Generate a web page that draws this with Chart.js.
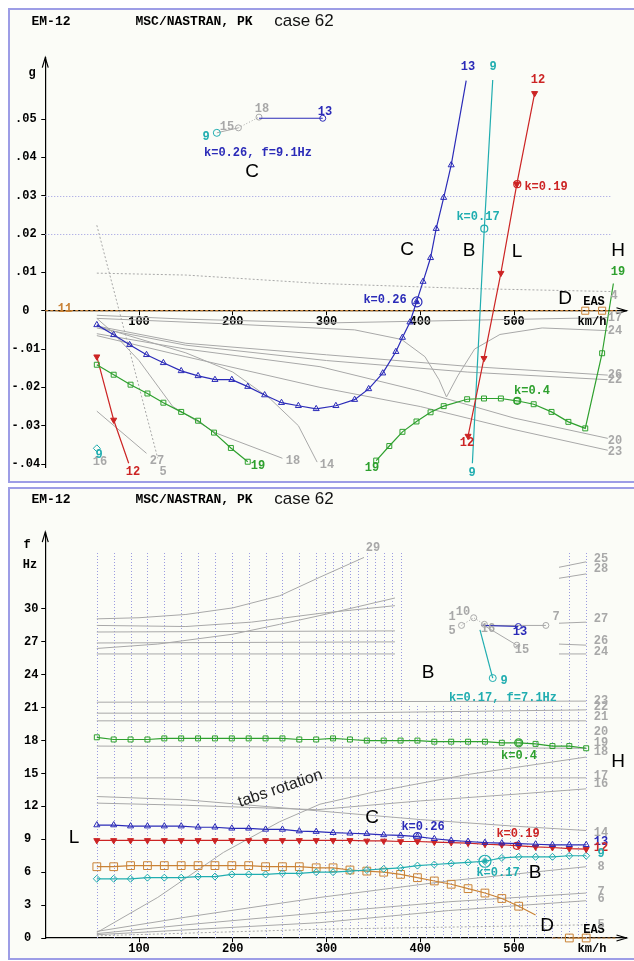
<!DOCTYPE html>
<html>
<head>
<meta charset="utf-8">
<title>EM-12 flutter, case 62</title>
<script src="https://cdn.jsdelivr.net/npm/chart.js@4.4.1/dist/chart.umd.min.js"></script>
<style>
  html, body { margin: 0; padding: 0; background: #fff; width: 634px; height: 961px; overflow: hidden; }
  .panel { position: absolute; left: 8px; width: 640px; border: 2px solid #9d9de6; background: #fbfcf7; box-sizing: border-box; }
  #box1 { top: 8px; height: 475px; }
  #box2 { top: 487px; height: 473px; }
  canvas { position: absolute; left: 0; }
  #vg { top: 0; }
  #vf { top: 480px; }
</style>
</head>
<body>
<div class="panel" id="box1"></div>
<div class="panel" id="box2"></div>
<canvas id="vg" width="634" height="480"></canvas>
<canvas id="vf" width="634" height="481"></canvas>
<script>
// colours of the modes
const BLUE = '#2b2bb8', CYAN = '#20adb0', RED = '#cc2424', GREEN = '#2ea02e', ORANGE = '#c98236', GRAY = '#a8a8a8', GRID = '#9b9be0';
const MONO = '"Liberation Mono", "DejaVu Sans Mono", monospace';
const FONTS = {
    mono: 'bold 12px ' + MONO,
    head: 'bold 13px ' + MONO,
    big: '19px "Liberation Sans", Arial, sans-serif',
    title: '17px "Liberation Sans", Arial, sans-serif',
    tabs: '16px "Liberation Sans", Arial, sans-serif'
};

// ---------- axes
const xTicks = [100, 200, 300, 400, 500];
const gTicks = [-0.04, -0.03, -0.02, -0.01, 0, 0.01, 0.02, 0.03, 0.04, 0.05];
const gTickLabels = ['-.04', '-.03', '-.02', '-.01', '0', '.01', '.02', '.03', '.04', '.05'];
const fTicks = [0, 3, 6, 9, 12, 15, 18, 21, 24, 27, 30];

// ---------- V-g panel (speed km/h EAS, damping g)
const speedG13 = [55, 73, 90, 108, 126, 145, 163, 181, 199, 216, 234, 252, 270, 289, 310, 330, 345, 360, 374, 381, 389, 396, 403, 411, 417, 425, 433, 449];
const dampG13 = [-0.0037, -0.0063, -0.0089, -0.0115, -0.0136, -0.0157, -0.0170, -0.0180, -0.0180, -0.0198, -0.0220, -0.0240, -0.0248, -0.0256, -0.0248, -0.0232, -0.0204, -0.0163, -0.0107, -0.0070, -0.0030, 0.0023, 0.0076, 0.0138, 0.0214, 0.0295, 0.0380, 0.0600];
const speedG19a = [55, 73, 91, 109, 126, 145, 163, 180, 198, 216];
const dampG19a = [-0.0141, -0.0167, -0.0193, -0.0216, -0.0240, -0.0264, -0.0287, -0.0318, -0.0358, -0.0394];
const speedG19b = [353, 367, 381, 396, 411, 425, 450, 468, 486, 503, 521, 540, 558, 576, 594, 606];
const dampG19b = [-0.0391, -0.0353, -0.0316, -0.0289, -0.0265, -0.0249, -0.0231, -0.0229, -0.0229, -0.0235, -0.0244, -0.0264, -0.0290, -0.0307, -0.0111, 0.0071];
const speedG12a = [55, 73, 89];
const dampG12a = [-0.0120, -0.0285, -0.0398];
const speedG12b = [451, 468, 486, 503, 522];
const dampG12b = [-0.0327, -0.0124, 0.0098, 0.0330, 0.0567];
const speedG9a = [55];
const dampG9a = [-0.0359];
const speedG9b = [455.6, 468.3, 477.3];
const dampG9b = [-0.0398, 0.0214, 0.0602];
const speedG11 = [0, 610];
const dampG11 = [0, 0];
const speedG11Marks = [576, 594];
const dampG11Marks = [0, 0];
const flutterSpeedG = [396.5, 468.3, 503.5, 503.5];
const flutterDampG = [0.0023, 0.0214, 0.0330, -0.0235];
// k-plot inset drawn in the V-g frame
const insetG9 = [[183, 0.0464]];
const insetGGray = [[183, 0.0464], [206, 0.0477]];
const insetGGrayDot = [[206, 0.0477], [228, 0.0505]];
const insetG13 = [[228, 0.0502], [296, 0.0502]];
// other modes (grey)
const grayG4 = [[55, 0.0098], [150, 0.0093], [293, 0.0071], [450, 0.0058], [603, 0.0050]];
const grayG5 = [[55, 0.0223], [120, -0.0385]];
const grayG16 = [[55, -0.0262], [108, -0.0372]];
const grayG18 = [[55, -0.0020], [69, -0.0050], [100, -0.0130], [136, -0.0250], [183, -0.0320], [253, -0.0385]];
const grayG14 = [[55, -0.0040], [150, -0.0110], [200, -0.0160], [240, -0.0230], [270, -0.0300], [290, -0.0395]];
const grayG17 = [[55, -0.0012], [150, -0.0022], [300, -0.0032], [450, -0.0025], [600, -0.0018]];
const grayG24 = [[55, -0.0020], [200, -0.0035], [330, -0.0050], [380, -0.0075], [405, -0.0120], [420, -0.0180], [428, -0.0225], [440, -0.0170], [458, -0.0100], [485, -0.0062], [530, -0.0045], [600, -0.0052]];
const grayG26 = [[55, -0.0040], [150, -0.0085], [300, -0.0115], [450, -0.0145], [600, -0.0168]];
const grayG22 = [[55, -0.0045], [150, -0.0090], [300, -0.0130], [450, -0.0160], [600, -0.0180]];
const grayG20 = [[55, -0.0060], [150, -0.0100], [293, -0.0146], [400, -0.0210], [500, -0.0280], [600, -0.0333]];
const grayG23 = [[55, -0.0065], [150, -0.0120], [293, -0.0200], [400, -0.0250], [500, -0.0310], [600, -0.0364]];

// ---------- V-f panel (speed km/h EAS, frequency Hz)
const speedF = [55, 73, 91, 109, 127, 145, 163, 181, 199, 217, 235, 253, 271, 289, 307, 325, 343, 361, 379, 397, 415, 433, 451, 469, 487, 505, 523, 541, 559, 577];
const freqF13 = [10.3, 10.3, 10.2, 10.2, 10.2, 10.2, 10.1, 10.1, 10.0, 10.0, 9.9, 9.9, 9.75, 9.7, 9.6, 9.55, 9.5, 9.4, 9.35, 9.25, 9.05, 8.9, 8.8, 8.7, 8.65, 8.6, 8.55, 8.5, 8.5, 8.5];
const freqF12 = [8.9, 8.9, 8.9, 8.9, 8.9, 8.9, 8.9, 8.9, 8.9, 8.9, 8.9, 8.9, 8.9, 8.9, 8.9, 8.9, 8.85, 8.85, 8.8, 8.8, 8.75, 8.7, 8.65, 8.55, 8.5, 8.4, 8.3, 8.25, 8.15, 8.1];
const freqF9 = [5.4, 5.4, 5.4, 5.5, 5.5, 5.5, 5.6, 5.6, 5.8, 5.8, 5.8, 5.9, 5.9, 6.0, 6.0, 6.1, 6.2, 6.3, 6.4, 6.6, 6.7, 6.8, 6.9, 7.0, 7.3, 7.4, 7.4, 7.4, 7.5, 7.5];
const freqF11 = [6.5, 6.5, 6.6, 6.6, 6.6, 6.6, 6.6, 6.6, 6.6, 6.6, 6.5, 6.5, 6.5, 6.4, 6.4, 6.2, 6.1, 6.0, 5.8, 5.5, 5.2, 4.9, 4.5, 4.1, 3.6, 2.9, 2.1, null, 0, 0];
const freqF19 = [18.3, 18.1, 18.1, 18.1, 18.2, 18.2, 18.2, 18.2, 18.2, 18.2, 18.2, 18.2, 18.1, 18.1, 18.2, 18.1, 18.0, 18.0, 18.0, 18.0, 17.9, 17.9, 17.9, 17.9, 17.8, 17.8, 17.7, 17.5, 17.5, 17.3];
const speedF11Zero = [541, 610];
const freqF11Zero = [0, 0];
const flutterSpeedF = [397, 469, 503, 505];
const flutterFreqF = [9.25, 7.0, 8.4, 17.8];
// k-plot inset drawn in the V-f frame
const insetF9 = [[463.7, 28.1], [477.3, 23.7]];
const insetF13 = [[465.6, 28.5], [504.6, 28.4]];
const insetF7 = [[465.6, 28.5], [534, 28.5]];
const insetF15 = [[468, 28.5], [503, 26.7]];
const insetFDots = [[444, 28.5], [457, 29.2], [468.4, 28.6]];
// other modes (grey)
const grayF29 = [[55, 29.1], [100, 29.2], [150, 29.5], [200, 30.1], [250, 31.2], [293, 32.9], [340, 34.7]];
const grayF28 = [[55, 28.5], [150, 28.4], [220, 28.8], [293, 29.6], [373, 30.3]];
const grayF28r = [[548, 32.8], [577, 33.2]];
const grayF25 = [[55, 26.4], [120, 26.8], [200, 27.7], [250, 28.6], [293, 29.4], [373, 31.0]];
const grayF25r = [[548, 33.8], [577, 34.3]];
const grayF27 = [[55, 27.9], [373, 28.0]];
const grayF27r = [[548, 28.7], [577, 28.8]];
const grayF26 = [[55, 26.9], [373, 27.0]];
const grayF26r = [[548, 26.8], [577, 26.7]];
const grayF24 = [[55, 25.9], [373, 25.9]];
const grayF24r = [[548, 25.9], [577, 25.9]];
const grayF23 = [[55, 21.5], [577, 21.6]];
const grayF22 = [[55, 20.5], [300, 20.5], [577, 20.8]];
const grayF21 = [[55, 19.8], [577, 19.8]];
const grayF18 = [[55, 17.5], [300, 17.4], [577, 17.3]];
const grayF17 = [[55, 14.6], [577, 14.6]];
const grayF16 = [[55, 12.3], [150, 12.1], [290, 11.7], [400, 12.5], [500, 13.1], [577, 13.6]];
const grayF14 = [[55, 12.9], [150, 12.6], [290, 11.6], [400, 10.8], [500, 10.2], [577, 9.8]];
const grayFTabs = [[55, 0.5], [120, 3.7], [190, 7.8], [250, 10.6], [293, 12.2], [350, 13.3], [450, 14.9], [577, 16.5]];
const grayF8 = [[55, 0.6], [150, 1.9], [293, 3.7], [430, 5.2], [577, 6.5]];
const grayF7 = [[55, 0.4], [150, 1.2], [293, 2.3], [430, 3.3], [577, 4.1]];
const grayF6 = [[55, 0.3], [293, 1.4], [430, 2.5], [577, 3.4]];
const grayF5 = [[55, 0.2], [293, 0.8], [577, 1.2]];
// dotted speed grid of the V-f frame
const gridTallSpeeds = [55, 73, 91, 109, 127, 145, 163, 181, 199, 217, 235, 253, 271, 289, 298, 307, 316, 325, 334, 343, 352, 361, 370, 379, 559, 577];
const gridShortSpeeds = [388, 397, 406, 415, 424, 433, 442, 451, 460, 469, 478, 487, 496, 505, 514, 523, 532, 541, 550, 568];

// ---------- texts [text, x, y, colour, font]
const headerTexts = [
    ['EM-12', 51, 0, '#000', 'head'],
    ['MSC/NASTRAN, PK', 194, 0, '#000', 'head'],
    ['case 62', 304, -1, '#111', 'title']
];
const textsG = [
    ['g', 32, 73],
    ['C', 252, 172, '#000', 'big'], ['C', 407, 250, '#000', 'big'], ['B', 469, 251, '#000', 'big'],
    ['L', 517, 252, '#000', 'big'], ['H', 618, 251, '#000', 'big'], ['D', 565, 299, '#000', 'big'],
    ['k=0.26, f=9.1Hz', 258, 153, BLUE], ['k=0.26', 385, 300, BLUE], ['k=0.19', 546, 187, RED],
    ['k=0.17', 478, 217, CYAN], ['k=0.4', 532, 391, GREEN],
    ['EAS', 594, 302], ['km/h', 592, 322],
    ['13', 468, 67, BLUE], ['9', 493, 67, CYAN], ['12', 538, 80, RED],
    ['13', 325, 112, BLUE], ['9', 206, 137, CYAN], ['15', 227, 127, GRAY], ['18', 262, 109, GRAY],
    ['11', 65, 309, ORANGE],
    ['16', 100, 462, GRAY], ['9', 99, 455, CYAN], ['12', 133, 472, RED], ['27', 157, 461, GRAY], ['5', 163, 472, GRAY],
    ['19', 258, 466, GREEN], ['18', 293, 461, GRAY], ['14', 327, 465, GRAY], ['19', 372, 468, GREEN],
    ['9', 472, 473, CYAN], ['12', 467, 443, RED],
    ['20', 615, 441, GRAY], ['23', 615, 452, GRAY], ['26', 615, 375, GRAY], ['22', 615, 380, GRAY],
    ['24', 615, 331, GRAY], ['17', 615, 318, GRAY], ['4', 614, 296, GRAY], ['19', 618, 272, GREEN]
];
const textsF = [
    ['f', 27, 65], ['Hz', 30, 85],
    ['B', 428, 193, '#000', 'big'], ['H', 618, 282, '#000', 'big'], ['C', 372, 338, '#000', 'big'],
    ['B', 535, 393, '#000', 'big'], ['L', 74, 358, '#000', 'big'], ['D', 547, 446, '#000', 'big'],
    ['k=0.26', 423, 347, BLUE], ['k=0.19', 518, 354, RED], ['k=0.17', 498, 393, CYAN], ['k=0.4', 519, 276, GREEN],
    ['k=0.17, f=7.1Hz', 503, 218, CYAN],
    ['EAS', 594, 450], ['km/h', 592, 469],
    ['29', 373, 68, GRAY],
    ['25', 601, 79, GRAY], ['28', 601, 89, GRAY], ['27', 601, 139, GRAY], ['26', 601, 161, GRAY], ['24', 601, 172, GRAY],
    ['23', 601, 221, GRAY], ['22', 601, 227, GRAY], ['21', 601, 237, GRAY], ['20', 601, 252, GRAY],
    ['19', 601, 263, GRAY], ['18', 601, 272, GRAY], ['17', 601, 296, GRAY], ['16', 601, 304, GRAY],
    ['14', 601, 353, GRAY], ['13', 601, 362, BLUE], ['12', 601, 368, RED], ['9', 601, 374, CYAN],
    ['8', 601, 387, GRAY], ['7', 601, 412, GRAY], ['6', 601, 419, GRAY], ['5', 601, 445, GRAY],
    ['1', 452, 137, GRAY], ['10', 463, 132, GRAY], ['5', 452, 151, GRAY], ['16', 488, 149, GRAY],
    ['7', 556, 137, GRAY], ['13', 520, 152, BLUE], ['15', 522, 170, GRAY], ['9', 504, 201, CYAN]
];

// ---------- helpers
const pts = (xs, ys) => xs.map((x, i) => ({x, y: ys[i]}));
const pairs = arr => arr.map(([x, y]) => ({x, y}));
const hideLast = r => ctx => (ctx.dataIndex === ctx.dataset.data.length - 1 ? 0 : r);
const onlyAt = (idx, r) => ctx => (ctx.dataIndex === idx ? r : 0);

function modeLine(data, color, opts = {}) {
    return Object.assign({
        data,
        borderColor: color,
        backgroundColor: 'transparent',
        borderWidth: 1.2,
        pointRadius: 0,
        pointBorderColor: color,
        pointBackgroundColor: 'rgba(0,0,0,0)',
        pointBorderWidth: 1,
        tension: 0,
        spanGaps: false,
        clip: false
    }, opts);
}
const grayLine = (arr, dash) => modeLine(pairs(arr), GRAY, {borderWidth: 1, borderDash: dash || []});
const circles = (data, color, r) => modeLine(data, color, {showLine: false, pointRadius: r, pointBorderWidth: 1.2});

function drawText(ctx, [t, x, y, color, font]) {
    ctx.font = FONTS[font || 'mono'];
    ctx.fillStyle = color || '#000';
    ctx.fillText(t, x, y);
}

function makeDecor(cfg) {
    return {
        id: 'decor',
        beforeDatasetsDraw(chart) {
            const {ctx, scales: {x, y}} = chart;
            ctx.save();
            ctx.strokeStyle = GRID;
            ctx.lineWidth = 1;
            ctx.setLineDash([1, 2]);
            (cfg.vGrid || []).forEach(g => g.at.forEach(v => {
                const px = Math.round(x.getPixelForValue(v)) + 0.5;
                ctx.beginPath();
                ctx.moveTo(px, y.getPixelForValue(g.from));
                ctx.lineTo(px, y.getPixelForValue(g.to));
                ctx.stroke();
            }));
            (cfg.hGrid || []).forEach(g => g.at.forEach(v => {
                const py = Math.round(y.getPixelForValue(v)) + 0.5;
                ctx.beginPath();
                ctx.moveTo(x.getPixelForValue(g.from), py);
                ctx.lineTo(x.getPixelForValue(g.to), py);
                ctx.stroke();
            }));
            ctx.restore();
        },
        afterDraw(chart) {
            const {ctx, chartArea: a, scales: {y}} = chart;
            const y0 = y.getPixelForValue(0);
            ctx.save();
            // axis arrows
            ctx.strokeStyle = '#000';
            ctx.lineWidth = 1.2;
            ctx.beginPath();
            ctx.moveTo(a.left - 3, a.top + 10); ctx.lineTo(a.left, a.top); ctx.lineTo(a.left + 3, a.top + 10);
            ctx.moveTo(a.right - 10, y0 - 3); ctx.lineTo(a.right, y0); ctx.lineTo(a.right - 10, y0 + 3);
            ctx.stroke();
            // labels
            ctx.textAlign = 'center';
            ctx.textBaseline = 'middle';
            headerTexts.forEach(([t, x, dy, c, f]) => drawText(ctx, [t, x, cfg.headerY + dy, c, f]));
            cfg.texts.forEach(item => drawText(ctx, item));
            if (cfg.rotated) {
                const [t, x, yy, ang] = cfg.rotated;
                ctx.translate(x, yy);
                ctx.rotate(ang);
                ctx.font = FONTS.tabs;
                ctx.fillStyle = '#222';
                ctx.textAlign = 'left';
                ctx.textBaseline = 'alphabetic';
                ctx.fillText(t, 0, 0);
            }
            ctx.restore();
        }
    };
}

function makeChart(id, cfg) {
    return new Chart(document.getElementById(id), {
        type: 'line',
        data: {datasets: cfg.datasets},
        options: {
            responsive: false,
            animation: false,
            events: [],
            layout: {padding: cfg.padding},
            plugins: {legend: {display: false}, tooltip: {enabled: false}},
            scales: {
                x: {
                    type: 'linear', min: 0, max: 620, position: {y: 0},
                    afterBuildTicks: s => { s.ticks = xTicks.map(v => ({value: v})); },
                    grid: {display: true, drawOnChartArea: false, drawTicks: true, tickLength: 4, tickColor: '#000'},
                    border: {color: '#000', width: 1.2},
                    ticks: {padding: 0, maxRotation: 0, autoSkip: false, color: '#000', font: {family: MONO, size: 12, weight: 'bold'}}
                },
                y: {
                    type: 'linear', min: cfg.yMin, max: cfg.yMax, position: 'left',
                    afterBuildTicks: s => { s.ticks = cfg.yTicks.map(v => ({value: v})); },
                    afterFit: s => { s.width = cfg.axisWidth; },
                    grid: {display: true, drawOnChartArea: false, drawTicks: true, tickLength: 4, tickColor: '#000'},
                    border: {color: '#000', width: 1.2},
                    ticks: {
                        padding: 1, autoSkip: false, crossAlign: cfg.crossAlign, color: '#000',
                        font: {family: MONO, size: 12, weight: 'bold'},
                        callback: (v, i) => cfg.yLabels[i]
                    }
                }
            }
        },
        plugins: [makeDecor(cfg)]
    });
}

// ---------- V-g chart
makeChart('vg', {
    yMin: -0.0408, yMax: 0.066,
    yTicks: gTicks, yLabels: gTickLabels,
    axisWidth: 45.25, crossAlign: 'center',
    padding: {left: 0, right: 7.5, top: 57.7, bottom: 12.9},
    hGrid: [{at: [0.02, 0.03], from: 0, to: 603}],
    texts: textsG,
    headerY: 22,
    datasets: [
        modeLine(pts(speedG13, dampG13), BLUE, {pointStyle: 'triangle', pointRadius: hideLast(3.5)}),
        modeLine(pts(speedG19a, dampG19a), GREEN, {pointStyle: 'rect', pointRadius: 3.5}),
        modeLine(pts(speedG19b, dampG19b), GREEN, {pointStyle: 'rect', pointRadius: hideLast(3.5)}),
        modeLine(pts(speedG12a, dampG12a), RED, {pointStyle: 'triangle', pointRotation: 180, pointRadius: hideLast(3.5), pointBackgroundColor: RED}),
        modeLine(pts(speedG12b, dampG12b), RED, {pointStyle: 'triangle', pointRotation: 180, pointRadius: 3.5, pointBackgroundColor: RED}),
        modeLine(pts(speedG9a, dampG9a), CYAN, {pointStyle: 'rectRot', pointRadius: 3.5}),
        modeLine(pts(speedG9b, dampG9b), CYAN),
        modeLine(pts(speedG11Marks, dampG11Marks), ORANGE, {showLine: false, pointStyle: 'rect', pointRadius: 5}),
        circles(pts(flutterSpeedG, flutterDampG), [BLUE, CYAN, RED, GREEN], [5, 3.5, 3.5, 3.5]),
        modeLine([{x: flutterSpeedG[0], y: flutterDampG[0]}], BLUE, {pointRadius: 1.5, pointBackgroundColor: BLUE}),
        modeLine(pairs(insetG13), BLUE, {pointRadius: onlyAt(1, 3)}),
        modeLine(pairs(insetG9), CYAN, {pointRadius: 3.5}),
        modeLine(pairs(insetGGray), GRAY, {borderWidth: 1, pointRadius: onlyAt(1, 3)}),
        modeLine(pairs(insetGGrayDot), GRAY, {borderWidth: 1, borderDash: [1, 2], pointRadius: onlyAt(1, 3)}),
        modeLine(pts(speedG11, dampG11), ORANGE, {borderDash: [3, 2]}),
        grayLine(grayG4, [2, 2]), grayLine(grayG5, [2, 2]), grayLine(grayG16), grayLine(grayG18),
        grayLine(grayG14), grayLine(grayG17), grayLine(grayG24), grayLine(grayG26), grayLine(grayG22),
        grayLine(grayG20), grayLine(grayG23)
    ]
});

// ---------- V-f chart
makeChart('vf', {
    yMin: 0, yMax: 37,
    yTicks: fTicks, yLabels: fTicks.map(String),
    axisWidth: 21.25, crossAlign: 'far',
    padding: {left: 24, right: 7.5, top: 52.2, bottom: 23},
    vGrid: [{at: gridTallSpeeds, from: 0, to: 35.1}, {at: gridShortSpeeds, from: 0, to: 21.2}],
    texts: textsF,
    headerY: 20,
    rotated: ['tabs rotation', 240, 327, -0.33],
    datasets: [
        modeLine(pts(speedF, freqF19), GREEN, {pointStyle: 'rect', pointRadius: 3.5}),
        modeLine(pts(speedF, freqF13), BLUE, {pointStyle: 'triangle', pointRadius: 3.5}),
        modeLine(pts(speedF, freqF12), RED, {pointStyle: 'triangle', pointRotation: 180, pointRadius: 3.5, pointBackgroundColor: RED}),
        modeLine(pts(speedF, freqF9), CYAN, {pointStyle: 'rectRot', pointRadius: 3.5}),
        modeLine(pts(speedF, freqF11), ORANGE, {pointStyle: 'rect', pointRadius: ctx => (ctx.dataIndex === 26 ? 0 : 5.5)}),
        modeLine(pts(speedF11Zero, freqF11Zero), ORANGE, {borderDash: [3, 2]}),
        circles(pts(flutterSpeedF, flutterFreqF), [BLUE, CYAN, RED, GREEN], [4, 6, 3.5, 4]),
        modeLine([{x: flutterSpeedF[1], y: flutterFreqF[1]}], CYAN, {pointRadius: 1.8, pointBackgroundColor: CYAN}),
        modeLine(pairs(insetF13), BLUE, {pointRadius: onlyAt(1, 3)}),
        modeLine(pairs(insetF9), CYAN, {pointRadius: onlyAt(1, 3.5)}),
        modeLine(pairs(insetF7), GRAY, {borderWidth: 1, pointRadius: onlyAt(1, 3)}),
        modeLine(pairs(insetF15), GRAY, {borderWidth: 1, pointRadius: onlyAt(1, 3)}),
        modeLine(pairs(insetFDots), GRAY, {borderWidth: 1, borderDash: [1, 2], pointRadius: 3}),
        grayLine(grayF29), grayLine(grayF28), grayLine(grayF28r), grayLine(grayF25), grayLine(grayF25r),
        grayLine(grayF27), grayLine(grayF27r), grayLine(grayF26), grayLine(grayF26r), grayLine(grayF24), grayLine(grayF24r),
        grayLine(grayF23), grayLine(grayF22), grayLine(grayF21), grayLine(grayF18), grayLine(grayF17),
        grayLine(grayF16), grayLine(grayF14), grayLine(grayFTabs), grayLine(grayF8), grayLine(grayF7), grayLine(grayF6),
        grayLine(grayF5, [2, 2])
    ]
});
</script>
</body>
</html>
